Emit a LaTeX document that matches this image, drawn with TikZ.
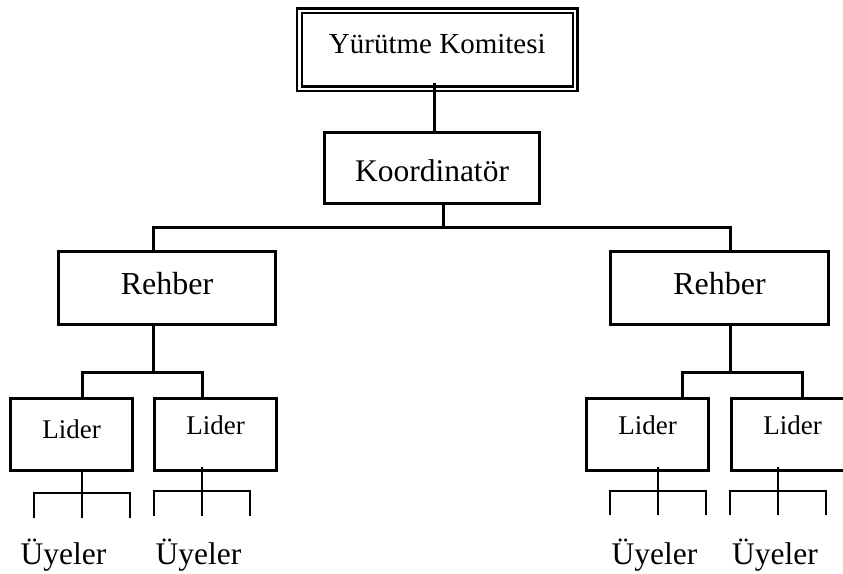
\documentclass[tikz,border=0pt]{standalone}
\usepackage{fontspec}
\setmainfont{Liberation Serif}
\begin{document}
\begin{tikzpicture}[x=1pt,y=-1pt,
  box/.style={draw, line width=3pt, inner sep=0pt, anchor=north west},
  leaderbox/.style={box, minimum width=122pt, font=\fontsize{27}{32}\selectfont},
  guidebox/.style={box, minimum width=217pt, text height=43pt, text depth=30pt,
                   font=\fontsize{32}{38}\selectfont},
  members/.style={anchor=base, inner sep=0pt, font=\fontsize{31.5}{36}\selectfont},
  link/.style={line width=3pt},
  stem/.style={line width=2.6pt},
  twig/.style={line width=2pt}]
\useasboundingbox (0,0) rectangle (843,573);

% top level
\node[draw, double, line width=2.3pt, double distance=2.2pt, inner sep=0pt,
      anchor=north west, minimum width=275.7pt, text height=42.3pt, text depth=35.5pt,
      font=\fontsize{29}{34}\selectfont] (kom) at (298.3,9.7) {Yürütme Komitesi};
\node[box, minimum width=215pt, text height=49pt, text depth=22pt,
      font=\fontsize{31.5}{36}\selectfont] (koord) at (323,131) {Koordinatör};

% guides
\node[guidebox] (rehL) at (57,250) {Rehber};
\node[guidebox, minimum width=218pt] (rehR) at (609,250) {Rehber};

% leaders
\node[leaderbox, text height=40pt, text depth=32pt] (lid1) at (9,397) {Lider};
\node[leaderbox, text height=36pt, text depth=36pt] (lid2) at (153,397) {Lider};
\node[leaderbox, text height=36pt, text depth=36pt] (lid3) at (585,397) {Lider};
\node[leaderbox, text height=36pt, text depth=36pt] (lid4) at (730,397) {Lider};

% members
\node[members] (uye1) at (63.5,564) {Üyeler};
\node[members] (uye2) at (198.5,564) {Üyeler};
\node[members] (uye3) at (654.5,564) {Üyeler};
\node[members] (uye4) at (775,564) {Üyeler};

% bus points
\coordinate (k1) at (434.3,83);
\coordinate (busM) at (443,227);
\coordinate (busL) at (153,227);
\coordinate (busR) at (730,227);
\coordinate (barL) at (153,372);
\coordinate (barR) at (730,372);
\coordinate (l1) at (82,372);
\coordinate (l2) at (202,372);
\coordinate (l3) at (682,372);
\coordinate (l4) at (802,372);

% committee to coordinator
\draw[link] (k1) -- (koord.north -| k1);
% coordinator to guides
\draw[link] (koord.south -| busM) -- (busM);
\draw[link] (rehL.north -| busL) -- (busL) -- (busR) -- (rehR.north -| busR);
% guides to leaders
\draw[link] (rehL.south -| barL) -- (barL);
\draw[link] (lid1.north -| l1) -- (l1) -- (l2) -- (lid2.north -| l2);
\draw[link] (rehR.south -| barR) -- (barR);
\draw[link] (lid3.north -| l3) -- (l3) -- (l4) -- (lid4.north -| l4);

% leaders to members
\draw[stem] (lid1.south -| 82,0) -- (82,518);
\draw[twig] (34,518) -- (34,493) -- (130,493) -- (130,518);
\draw[stem] (202,467) -- (202,516);
\draw[twig] (154,516) -- (154,491) -- (250,491) -- (250,516);
\draw[stem] (658,467) -- (658,515);
\draw[twig] (610,515) -- (610,491) -- (706,491) -- (706,515);
\draw[stem] (778,467) -- (778,515);
\draw[twig] (730,515) -- (730,491) -- (826,491) -- (826,515);
\end{tikzpicture}
\end{document}
